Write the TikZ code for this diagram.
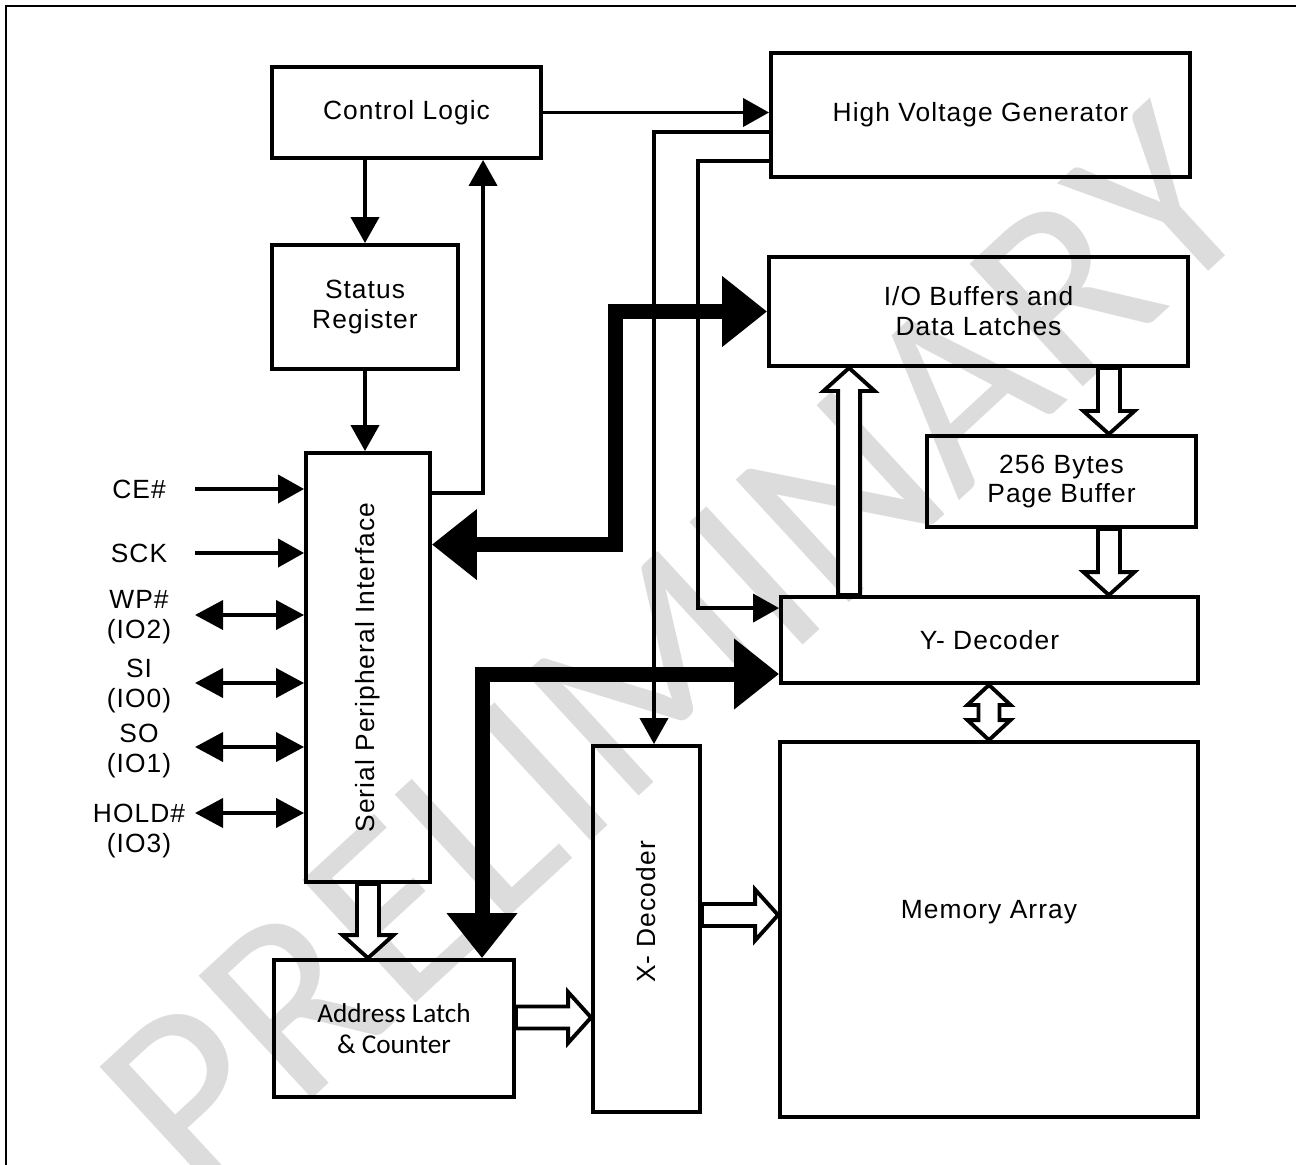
\documentclass[tikz,border=0pt]{standalone}
\usepackage{fontspec}
\setmainfont{Liberation Sans}[LetterSpace=4]
\newfontfamily\calfont{Carlito}
\usetikzlibrary{arrows.meta,calc}
\definecolor{wmgrey}{HTML}{DCDCDC}
\newcommand{\lbl}{\fontsize{15}{17}\selectfont}
\tikzset{
  blk/.style  ={draw, line width=2.2pt, align=center, inner sep=0pt,
                font=\lbl},
  pin/.style  ={align=center, inner sep=0pt, font=\lbl},
  ar/.style   ={-{Triangle[length=5.2mm,width=5.6mm]}, line width=2.2pt},
  arb/.style  ={{Triangle[length=5.6mm,width=5.8mm]}-{Triangle[length=5.6mm,width=5.8mm]},
                line width=2.2pt},
  bus/.style  ={{Triangle[length=9mm,width=13.6mm]}-{Triangle[length=9mm,width=13.6mm]},
                line width=3mm},
  hol/.style  ={draw, fill=white, line width=2.2pt, line join=miter,
                to path={
                  ($(\tikztostart)!2.2mm!90:(\tikztotarget)$)
                  -- ($(\tikztotarget)!4.6mm!(\tikztostart)!2.2mm!90:(\tikztotarget)$)
                  -- ($(\tikztotarget)!4.6mm!(\tikztostart)!5.1mm!90:(\tikztotarget)$)
                  -- (\tikztotarget)
                  -- ($(\tikztotarget)!4.6mm!(\tikztostart)!5.1mm!-90:(\tikztotarget)$)
                  -- ($(\tikztotarget)!4.6mm!(\tikztostart)!2.2mm!-90:(\tikztotarget)$)
                  -- ($(\tikztostart)!2.2mm!-90:(\tikztotarget)$)
                  -- cycle}},
  holb/.style ={draw, fill=white, line width=2.2pt, line join=miter,
                to path={
                  -- ($(\tikztostart)!4mm!(\tikztotarget)!4.3mm!90:(\tikztotarget)$)
                  -- ($(\tikztostart)!4mm!(\tikztotarget)!2.1mm!90:(\tikztotarget)$)
                  -- ($(\tikztotarget)!4mm!(\tikztostart)!2.1mm!90:(\tikztotarget)$)
                  -- ($(\tikztotarget)!4mm!(\tikztostart)!4.3mm!90:(\tikztotarget)$)
                  -- (\tikztotarget)
                  -- ($(\tikztotarget)!4mm!(\tikztostart)!4.3mm!-90:(\tikztotarget)$)
                  -- ($(\tikztotarget)!4mm!(\tikztostart)!2.1mm!-90:(\tikztotarget)$)
                  -- ($(\tikztostart)!4mm!(\tikztotarget)!2.1mm!-90:(\tikztotarget)$)
                  -- ($(\tikztostart)!4mm!(\tikztotarget)!4.3mm!-90:(\tikztotarget)$)
                  -- cycle}},
  wm/.style   ={font=\calfont\fontsize{148}{148}\selectfont, text=wmgrey,
                inner sep=0pt}
}

\begin{document}
\begin{tikzpicture}[x=0.2mm, y=-0.2mm]
\useasboundingbox (0,0) rectangle (1296,1165);
\node[wm, rotate=42.7] (prelim) at (675,650) {PRELIMINARY};
\draw[line width=0.5mm] (6,1165) -- (6,6) -- (1296,6);

\node[blk, minimum width=53.8mm, minimum height=18.2mm] (cl) at (406.5,112.5) {Control Logic};
\node[blk, minimum width=83.8mm, minimum height=24.8mm] (hvg) at (980.5,115) {High Voltage Generator};
\node[blk, minimum width=37.2mm, minimum height=24.8mm] (sr) at (365,307) {Status\\Register};
\node[blk, minimum width=83.8mm, minimum height=21.8mm] (io) at (978.5,311.5) {I/O Buffers and\\Data Latches};
\node[blk, minimum width=53.8mm, minimum height=18.2mm] (pb) at (1061.5,481.5) {256 Bytes\\Page Buffer};
\node[blk, minimum width=83.4mm, minimum height=17.2mm] (yd) at (989.5,640) {Y- Decoder};
\node[blk, minimum width=83.6mm, minimum height=75mm,
      label={[font=\lbl, yshift=3.4mm]center:Memory Array}] (mem) at (989,929.5) {};
\node[blk, minimum width=21.4mm, minimum height=73.2mm,
      label={[font=\lbl, yshift=3.4mm, rotate=90]center:X- Decoder}] (xd) at (646.5,929) {};
\node[blk, minimum width=48mm, minimum height=27.4mm, font=\calfont\fontsize{15.5}{18}\selectfont]
      (al) at (394,1028.5) {Address Latch\\\& Counter};
\node[blk, minimum width=24.8mm, minimum height=85.8mm,
      label={[font=\lbl, rotate=90]center:Serial Peripheral Interface}] (spi) at (368,667.5) {};

\node[pin] (lce)   at (139,489) {CE\#};
\node[pin] (lsck)  at (139,553) {SCK};
\node[pin] (lwp)   at (139,617) {WP\#\\(IO2)};
\node[pin] (lsi)   at (139,686) {SI\\(IO0)};
\node[pin] (lso)   at (139,751) {SO\\(IO1)};
\node[pin] (lhold) at (139,831) {HOLD\#\\(IO3)};
\coordinate (pce)   at (195,489);
\coordinate (psck)  at (195,553);
\coordinate (pwp)   at (195,615);
\coordinate (psi)   at (195,683);
\coordinate (pso)   at (195,747);
\coordinate (phold) at (195,813);

\draw[ar]  (pce) -- (pce -| spi.west);
\draw[ar]  (psck) -- (psck -| spi.west);
\draw[arb] (pwp) -- (pwp -| spi.west);
\draw[arb] (psi) -- (psi -| spi.west);
\draw[arb] (pso) -- (pso -| spi.west);
\draw[arb] (phold) -- (phold -| spi.west);

\draw[ar] (cl.east) -- (cl.east -| hvg.west);
\draw[ar] (cl.south -| sr.north) -- (sr.north);
\draw[ar] (sr.south) -- (sr.south |- spi.north);
\draw[ar] ($(spi.north east)+(0,42)$) -| ($(cl.south west)+(213,0)$);
\draw[ar] ($(hvg.north west)+(0,81)$) -| ($(xd.north)+(7.5,0)$);
\draw[ar] ($(hvg.north west)+(0,110)$) -| ($(yd.north west)+(-81,13)$)
          -- ($(yd.north west)+(0,13)$);

\draw[bus] (io.west) -| ($(spi.north east)+(184,93.5)$) -- ($(spi.north east)+(0,93.5)$);
\draw[bus] ($(yd.west)+(0,34)$) -| ($(al.north)+(88,0)$);

\coordinate (cb) at ($(pb.north east)+(-89,0)$);
\coordinate (cu) at ($(yd.north west)+(70,0)$);
\draw[hol] (io.south -| cb) to (cb);
\draw[hol] (pb.south -| cb) to (yd.north -| cb);
\draw[hol] (cu) to (io.south -| cu);
\draw[holb] (yd.south -| mem.north) to (mem.north);
\draw[hol] (spi.south) to (spi.south |- al.north);
\draw[hol] ($(al.east)+(0,-11)$) to ($(al.east -| xd.west)+(0,-11)$);
\draw[hol] ($(xd.east)+(0,-14)$) to ($(xd.east -| mem.west)+(0,-14)$);
\end{tikzpicture}
\end{document}
